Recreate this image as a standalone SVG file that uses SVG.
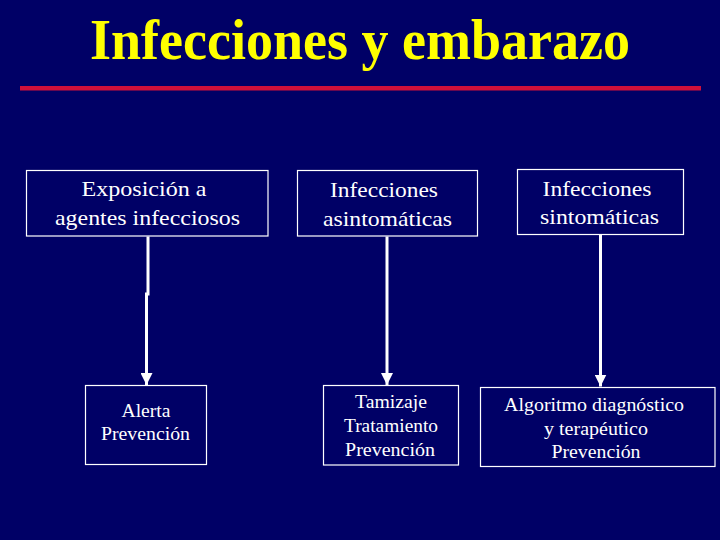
<svg xmlns="http://www.w3.org/2000/svg" width="720" height="540" viewBox="0 0 720 540">
<style>
.box{fill:none;stroke:#ffffff;stroke-width:1.2}
.t{font-family:"Liberation Serif","Times New Roman",serif;fill:#ffffff;text-anchor:middle}
.top{font-size:21px}
.bot{font-size:18px}
.con{stroke:#ffffff;stroke-width:3;fill:none}
</style>
<defs>
<marker id="ah" markerUnits="userSpaceOnUse" markerWidth="14" markerHeight="12" refX="12" refY="6" orient="auto">
<path d="M0,0 L12,6 L0,12 Z" fill="#ffffff"/>
</marker>
</defs>
<rect x="0" y="0" width="720" height="540" fill="#000066"/>
<g id="title">
<text x="360" y="59" font-family="Liberation Serif,'Times New Roman',serif" font-weight="bold" font-size="57" fill="#ffff00" text-anchor="middle" textLength="540" lengthAdjust="spacingAndGlyphs">Infecciones y embarazo</text>
<rect x="20" y="86" width="681" height="4.5" fill="#d0103a"/>
</g>
<g id="n1">
<rect class="box" x="26.5" y="170.5" width="241.5" height="65.5"/>
<text class="t top" x="144" y="196" textLength="125" lengthAdjust="spacingAndGlyphs">Exposición a</text>
<text class="t top" x="147.5" y="224.5" textLength="185" lengthAdjust="spacingAndGlyphs">agentes infecciosos</text>
</g>
<g id="n2">
<rect class="box" x="297.5" y="170.5" width="180" height="65.5"/>
<text class="t top" x="384" y="196.5" textLength="108" lengthAdjust="spacingAndGlyphs">Infecciones</text>
<text class="t top" x="387.5" y="225.5" textLength="129" lengthAdjust="spacingAndGlyphs">asintomáticas</text>
</g>
<g id="n3">
<rect class="box" x="517.5" y="169.5" width="166" height="65"/>
<text class="t top" x="597" y="196" textLength="109" lengthAdjust="spacingAndGlyphs">Infecciones</text>
<text class="t top" x="599.5" y="224" textLength="119" lengthAdjust="spacingAndGlyphs">sintomáticas</text>
</g>
<g id="n4">
<rect class="box" x="85.5" y="385.5" width="121" height="79"/>
<text class="t bot" x="146" y="416.5" textLength="49" lengthAdjust="spacingAndGlyphs">Alerta</text>
<text class="t bot" x="145.5" y="440" textLength="89" lengthAdjust="spacingAndGlyphs">Prevención</text>
</g>
<g id="n5">
<rect class="box" x="323.5" y="385.5" width="135" height="79.5"/>
<text class="t bot" x="391" y="408" textLength="72" lengthAdjust="spacingAndGlyphs">Tamizaje</text>
<text class="t bot" x="391" y="432" textLength="94" lengthAdjust="spacingAndGlyphs">Tratamiento</text>
<text class="t bot" x="390" y="456" textLength="90" lengthAdjust="spacingAndGlyphs">Prevención</text>
</g>
<g id="n6">
<rect class="box" x="480.5" y="387.5" width="234.5" height="79"/>
<text class="t bot" x="594" y="411" textLength="180" lengthAdjust="spacingAndGlyphs">Algoritmo diagnóstico</text>
<text class="t bot" x="596" y="434.5" textLength="104" lengthAdjust="spacingAndGlyphs">y terapéutico</text>
<text class="t bot" x="596" y="457.5" textLength="89" lengthAdjust="spacingAndGlyphs">Prevención</text>
</g>
<g id="connectors">
<path class="con" d="M148,236.5 V294 H146.5 V385" marker-end="url(#ah)"/>
<path class="con" d="M387,236.5 V385" marker-end="url(#ah)"/>
<path class="con" d="M600.5,234.5 V386.5" marker-end="url(#ah)"/>
</g>
</svg>
